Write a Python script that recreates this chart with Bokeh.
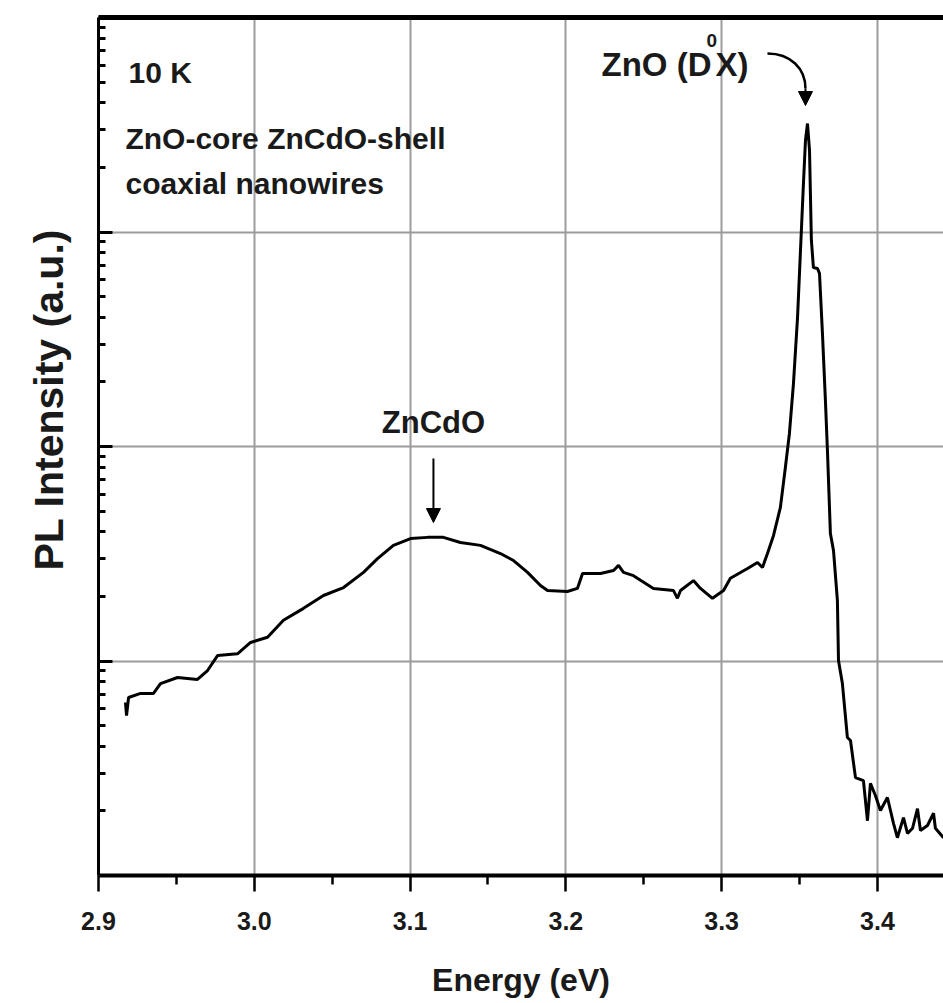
from bokeh.plotting import figure
from bokeh.models import LinearAxis, FixedTicker, Label, Arrow, NormalHead, Range1d, Title
from bokeh.embed import file_html
from bokeh.resources import INLINE

# ---- data (PL spectrum, 10 K) ----
energy = [2.9173, 2.9180, 2.9193, 2.9270, 2.9353, 2.9398, 2.9507, 2.9635, 2.9700, 2.9764,
          2.9892, 2.9976, 3.0085, 3.0187, 3.0316, 3.0444, 3.0573, 3.0701, 3.0791, 3.0893,
          3.1003, 3.1112, 3.1214, 3.1323, 3.1452, 3.1580, 3.1664, 3.1754, 3.1837, 3.1882,
          3.2010, 3.2074, 3.2107, 3.2222, 3.2306, 3.2338, 3.2370, 3.2434, 3.2562, 3.2691,
          3.2716, 3.2736, 3.2819, 3.2864, 3.2941, 3.3012, 3.3056, 3.3166, 3.3230, 3.3262,
          3.3294, 3.3333, 3.3377, 3.3409, 3.3435, 3.3461, 3.3487, 3.3506, 3.3525, 3.3538,
          3.3551, 3.3564, 3.3576, 3.3589, 3.3615, 3.3628, 3.3647, 3.3666, 3.3679, 3.3698,
          3.3718, 3.3743, 3.3750, 3.3775, 3.3807, 3.3827, 3.3859, 3.3910, 3.3936, 3.3955,
          3.3987, 3.4019, 3.4064, 3.4103, 3.4128, 3.4167, 3.4193, 3.4225, 3.4257, 3.4276,
          3.4321, 3.4360, 3.4372, 3.4424]
intensity = [6.41, 5.57, 6.76, 7.06, 7.06, 7.85, 8.38, 8.20, 9.03, 10.6,
             10.8, 12.2, 12.9, 15.5, 17.6, 20.2, 22.0, 25.9, 30.0, 34.6,
             37.2, 37.7, 37.7, 35.7, 34.6, 31.7, 29.4, 25.9, 22.5, 21.3,
             21.1, 21.8, 25.6, 25.6, 26.4, 27.9, 25.9, 25.0, 21.8, 21.3,
             19.6, 21.3, 23.7, 21.8, 19.6, 21.3, 24.3, 27.0, 28.8, 27.3,
             31.7, 38.5, 52.0, 79.8, 115, 197, 399, 820, 1683, 2671,
             3205, 2399, 913, 683, 676, 641, 336, 164, 95.8, 39.3,
             32.7, 19.1, 10.05, 7.85, 4.40, 4.26, 2.86, 2.77, 1.80, 2.69,
             2.36, 2.01, 2.31, 1.75, 1.50, 1.86, 1.57, 1.66, 2.05, 1.62,
             1.71, 1.95, 1.66, 1.50]

x_major = [2.9, 3.0, 3.1, 3.2, 3.3, 3.4]
x_tick_labels = ["2.9", "3.0", "3.1", "3.2", "3.3", "3.4"]
x_minor = [2.95, 3.05, 3.15, 3.25, 3.35]
y_major = [1, 10, 100, 1000, 10000]
y_minor = [m * d for d in [1, 10, 100, 1000] for m in range(2, 10)]

SANS = "Liberation Sans"
INK = "#1a1a1a"

p = figure(width=943, height=1003, y_axis_type="log",
           x_range=Range1d(2.9, 3.4424), y_range=Range1d(1, 10000),
           output_backend="svg", toolbar_location=None,
           min_border_left=98, min_border_right=0, min_border_top=17,
           min_border_bottom=128)
p.outline_line_color = None
p.background_fill_color = "white"
p.border_fill_color = "white"

# x axis
xt = FixedTicker(ticks=x_major, minor_ticks=x_minor)
xa = p.xaxis[0]
xa.ticker = xt
xa.major_label_overrides = {v: s for v, s in zip(x_major, x_tick_labels)}
xa.axis_line_width = 4
xa.axis_line_color = "black"
xa.major_tick_in = 0
xa.major_tick_out = 16
xa.minor_tick_in = 0
xa.minor_tick_out = 9
xa.major_tick_line_width = 2.5
xa.minor_tick_line_width = 2.5
xa.major_label_text_font = SANS
xa.major_label_text_font_style = "bold"
xa.major_label_text_font_size = "25px"
xa.major_label_text_color = INK
xa.major_label_standoff = 20
xa.axis_label = "Energy (eV)"
xa.axis_label_text_font = SANS
xa.axis_label_text_font_style = "bold"
xa.axis_label_text_font_size = "32px"
xa.axis_label_text_color = INK
xa.axis_label_standoff = 29

# y axis (log, labels hidden)
yt = FixedTicker(ticks=y_major, minor_ticks=y_minor)
ya = p.yaxis[0]
ya.ticker = yt
ya.axis_line_width = 3
ya.major_tick_in = 14
ya.major_tick_out = 0
ya.minor_tick_in = 7
ya.minor_tick_out = 0
ya.major_tick_line_width = 3
ya.minor_tick_line_width = 3
ya.major_label_text_color = None
ya.major_label_text_font_size = "8px"

# y title, placed like the reference (starts ~305 px above the frame bottom)
p.add_layout(Title(text="PL Intensity (a.u.)", align="left", offset=305, standoff=50,
                   vertical_align="top",
                   text_font=SANS, text_font_style="bold", text_font_size="41px",
                   text_color=INK), "left")

# thick top frame line
top = LinearAxis(ticker=FixedTicker(ticks=[3.0]), axis_line_width=5,
                 major_tick_line_color=None, minor_tick_line_color=None,
                 major_label_text_color=None, major_label_text_font_size="8px")
p.add_layout(top, "above")

# grids
p.xgrid.ticker = xt
p.ygrid.ticker = yt
for g in (p.xgrid[0], p.ygrid[0]):
    g.grid_line_color = "#9c9c9c"
    g.grid_line_width = 2

# spectrum
p.line(energy, intensity, line_width=3, color="black")

def note(x, y, text, size="30px", align="left"):
    p.add_layout(Label(x=x, y=y, text=text, text_align=align, text_baseline="alphabetic",
                       text_font=SANS, text_font_style="bold", text_font_size=size,
                       text_color=INK))

note(2.9193, 5540, "10 K")
note(2.9173, 2729, "ZnO-core ZnCdO-shell")
note(2.9173, 1683, "coaxial nanowires")
note(3.115, 129.4, "ZnCdO", size="31px", align="center")
note(3.2935, 6038, "ZnO (D", size="33px", align="right")
note(3.2902, 7812, "0", size="19px")
note(3.2960, 6038, "X)", size="33px")

# arrows
p.add_layout(Arrow(end=NormalHead(size=14, fill_color="black", line_color="black"),
                   x_start=3.115, y_start=87.9, x_end=3.115, y_end=44.2,
                   line_width=2, line_color="black"))
p.bezier(x0=[3.3294], y0=[6796], x1=[3.3538], y1=[4667],
         cx0=[3.3442], cy0=[6796], cx1=[3.3538], cy1=[5784],
         line_width=2.5, line_color="black")
p.add_layout(Arrow(end=NormalHead(size=14, fill_color="black", line_color="black"),
                   x_start=3.3538, y_start=4667, x_end=3.3538, y_end=3887,
                   line_width=2, line_color="black"))

open("out.html", "w").write(file_html(p, INLINE))
